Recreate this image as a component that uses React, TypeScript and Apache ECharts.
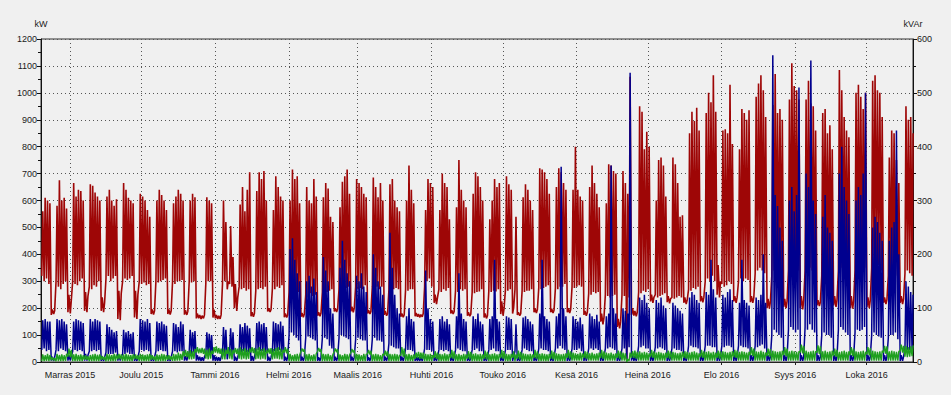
import React, { useEffect, useRef } from "react";
import * as echarts from "echarts";

// Daily readings, day 0 = Tue 20 Oct 2015; rows are weeks (Mon..Sun)
const redHigh: number[] = [
  560, 610, 600, 590, 195, 190,
  580, 675, 600, 610, 570, 250, 230,
  665, 615, 640, 635, 600, 260, 245,
  660, 655, 630, 615, 600, 240, 220,
  615, 640, 600, 580, 605, 265, 255,
  665, 640, 610, 600, 590, 265, 250,
  625, 615, 600, 565, 540, 195, 190,
  600, 640, 620, 600, 565, 195, 190,
  590, 615, 640, 625, 600, 192, 188,
  600, 625, 612, 180, 175, 172, 175,
  612, 600, 590, 195, 175, 172, 175,
  600, 520, 300, 505, 390, 290, 240,
  585, 650, 560, 640, 705, 185, 180,
  635, 705, 680, 710, 600, 200, 195,
  565, 690, 650, 615, 600, 180, 175,
  600, 715, 680, 690, 590, 182, 178,
  650, 600, 590, 680, 615, 185, 182,
  612, 665, 645, 540, 520, 200, 198,
  575, 670, 690, 715, 625, 205, 200,
  680, 665, 650, 625, 612, 192, 188,
  685, 650, 612, 665, 600, 190, 180,
  660, 680, 600, 575, 560, 180, 176,
  600, 730, 640, 590, 182, 178, 176,
  180, 565, 680, 665, 650, 250, 240,
  565, 700, 665, 650, 530, 192, 188,
  575, 750, 640, 600, 575, 185, 178,
  625, 705, 690, 650, 600, 180, 172,
  530, 600, 680, 650, 665, 225, 200,
  690, 660, 640, 200, 540, 185, 180,
  612, 660, 640, 600, 565, 200, 195,
  720, 715, 705, 680, 625, 198, 192,
  650, 720, 705, 665, 640, 200, 195,
  640, 800, 640, 615, 600, 190, 185,
  650, 730, 665, 625, 575, 180, 165,
  590, 735, 730, 710, 700, 160, 150,
  710, 665, 625, 1060, 200, 190, 185,
  950, 930, 790, 855, 800, 250, 240,
  600, 750, 760, 730, 615, 245, 235,
  760, 735, 665, 540, 545, 240, 230,
  850, 930, 895, 945, 860, 245, 240,
  925, 1000, 965, 1065, 930, 360, 300,
  860, 865, 850, 1030, 810, 245, 240,
  790, 940, 925, 900, 935, 245, 238,
  985, 1035, 1065, 1010, 910, 235, 225,
  955, 1070, 925, 940, 900, 235, 225,
  975, 1110, 1025, 1010, 975, 245, 230,
  975, 1045, 960, 950, 860, 230, 222,
  925, 940, 850, 880, 790, 245, 230,
  1085, 1010, 910, 860, 835, 245, 225,
  1000, 1030, 985, 940, 1000, 240, 230,
  1045, 1065, 1010, 1000, 910, 240, 232,
  760, 860, 850, 750, 665, 245, 235,
  950, 900, 910, 850,
];

const redLow: number[] = [
  320, 300, 310, 290, 175, 178,
  300, 280, 270, 290, 300, 185, 180,
  300, 290, 285, 300, 310, 190, 185,
  280, 270, 285, 280, 300, 190, 185,
  310, 320, 300, 310, 320, 160, 155,
  300, 310, 305, 310, 320, 165, 160,
  300, 290, 295, 285, 290, 178, 176,
  300, 295, 300, 305, 310, 178, 176,
  300, 290, 300, 300, 305, 176, 175,
  300, 295, 300, 162, 162, 160, 162,
  295, 300, 300, 165, 162, 160, 160,
  290, 300, 270, 290, 280, 200, 190,
  280, 270, 275, 265, 270, 170, 168,
  265, 270, 275, 270, 280, 188, 186,
  275, 270, 280, 275, 285, 166, 165,
  260, 250, 255, 250, 260, 168, 166,
  250, 240, 255, 245, 250, 172, 170,
  260, 255, 260, 265, 270, 188, 186,
  270, 270, 265, 275, 280, 188, 185,
  280, 270, 275, 270, 285, 180, 178,
  280, 275, 280, 270, 280, 175, 172,
  270, 265, 270, 275, 270, 168, 166,
  270, 265, 270, 270, 170, 168, 166,
  168, 280, 300, 310, 280, 220, 215,
  270, 260, 270, 265, 275, 180, 178,
  265, 260, 270, 265, 270, 172, 170,
  260, 255, 260, 262, 270, 165, 162,
  265, 260, 265, 262, 270, 178, 172,
  270, 265, 270, 180, 270, 175, 172,
  265, 260, 265, 265, 270, 185, 182,
  275, 270, 275, 280, 285, 185, 182,
  275, 270, 280, 280, 290, 185, 182,
  280, 275, 280, 285, 280, 175, 172,
  255, 250, 260, 255, 260, 150, 140,
  250, 245, 240, 245, 250, 130, 125,
  250, 245, 5, 240, 175, 172, 170,
  260, 255, 265, 260, 270, 225, 220,
  250, 240, 245, 250, 255, 222, 218,
  240, 235, 240, 245, 240, 220, 215,
  270, 265, 275, 270, 280, 225, 222,
  300, 310, 300, 320, 300, 250, 240,
  290, 280, 285, 300, 290, 225, 220,
  300, 310, 300, 310, 305, 222, 220,
  330, 340, 350, 340, 330, 200, 198,
  320, 340, 330, 340, 330, 205, 200,
  340, 350, 340, 350, 340, 200, 195,
  340, 330, 350, 340, 330, 210, 208,
  320, 330, 320, 330, 320, 210, 205,
  340, 350, 340, 330, 330, 200, 198,
  340, 350, 350, 340, 350, 205, 200,
  350, 340, 350, 360, 340, 220, 215,
  320, 330, 330, 320, 310, 220, 215,
  330, 340, 330, 320,
];

const blueHigh: number[] = [
  155, 160, 150, 150, 20, 18,
  160, 155, 160, 150, 140, 25, 20,
  150, 160, 155, 150, 145, 30, 25,
  160, 150, 160, 155, 150, 20, 18,
  140, 130, 120, 110, 115, 25, 20,
  120, 110, 115, 105, 110, 20, 18,
  160, 155, 150, 160, 145, 20, 18,
  150, 145, 150, 140, 135, 20, 18,
  145, 140, 130, 150, 140, 22, 20,
  120, 110, 115, 25, 20, 18, 20,
  110, 105, 100, 25, 20, 18, 18,
  130, 120, 40, 125, 110, 20, 18,
  140, 130, 145, 135, 125, 22, 20,
  145, 150, 140, 145, 130, 20, 18,
  150, 145, 140, 150, 135, 20, 20,
  420, 460, 380, 330, 300, 20, 18,
  300, 320, 280, 310, 260, 18, 18,
  390, 340, 300, 200, 180, 20, 18,
  350, 450, 380, 330, 300, 20, 18,
  320, 300, 330, 280, 260, 18, 18,
  400, 350, 300, 280, 250, 20, 18,
  480, 350, 250, 200, 180, 20, 18,
  170, 200, 160, 150, 20, 18, 18,
  20, 340, 200, 160, 150, 20, 18,
  160, 170, 150, 160, 140, 20, 18,
  170, 330, 180, 160, 150, 20, 18,
  170, 160, 180, 150, 140, 20, 18,
  160, 170, 380, 160, 150, 20, 18,
  170, 165, 160, 20, 140, 20, 18,
  165, 170, 160, 150, 140, 20, 18,
  180, 380, 170, 160, 150, 22, 20,
  170, 180, 725, 200, 170, 25, 20,
  170, 160, 150, 165, 140, 25, 20,
  180, 170, 160, 175, 150, 25, 20,
  170, 180, 730, 200, 180, 25, 20,
  200, 190, 180, 1075, 30, 22, 20,
  240, 230, 250, 220, 200, 25, 20,
  230, 220, 240, 210, 200, 25, 20,
  220, 210, 200, 190, 180, 22, 20,
  240, 260, 250, 230, 220, 25, 20,
  260, 250, 380, 270, 240, 30, 22,
  250, 240, 260, 270, 230, 25, 20,
  220, 380, 230, 220, 210, 25, 20,
  240, 230, 250, 400, 220, 25, 20,
  1140, 620, 580, 500, 450, 25, 20,
  600, 650, 560, 620, 1020, 25, 20,
  700, 650, 1120, 600, 550, 25, 20,
  540, 620, 500, 480, 450, 25, 20,
  700, 800, 650, 600, 550, 25, 20,
  600, 650, 620, 700, 1000, 25, 20,
  500, 540, 520, 480, 450, 25, 20,
  450, 500, 520, 860, 400, 25, 20,
  300, 280, 260, 250,
];

const blueLow: number[] = [
  45, 50, 40, 45, 5, 4,
  45, 40, 50, 45, 40, 5, 5,
  40, 45, 40, 45, 40, 5, 5,
  40, 40, 45, 40, 45, 4, 4,
  35, 30, 30, 30, 35, 5, 5,
  30, 30, 35, 30, 30, 4, 4,
  40, 45, 40, 45, 40, 4, 4,
  40, 40, 45, 40, 40, 4, 4,
  40, 40, 35, 40, 40, 5, 5,
  35, 30, 35, 5, 5, 4, 4,
  30, 30, 30, 5, 4, 4, 4,
  35, 30, 10, 35, 30, 4, 4,
  40, 35, 40, 35, 35, 4, 4,
  40, 45, 40, 40, 35, 4, 4,
  40, 40, 40, 45, 35, 4, 4,
  100, 110, 100, 90, 80, 4, 4,
  90, 95, 90, 85, 80, 4, 4,
  90, 90, 85, 60, 50, 4, 4,
  90, 100, 95, 90, 85, 4, 4,
  85, 90, 85, 80, 80, 4, 4,
  85, 90, 80, 80, 75, 4, 4,
  70, 60, 55, 50, 50, 4, 4,
  50, 45, 45, 40, 4, 4, 4,
  4, 50, 45, 45, 40, 4, 4,
  45, 45, 40, 45, 40, 4, 4,
  45, 50, 45, 40, 40, 4, 4,
  45, 45, 50, 40, 40, 4, 4,
  45, 45, 50, 40, 40, 4, 4,
  45, 45, 45, 4, 40, 4, 4,
  45, 50, 45, 40, 40, 4, 4,
  50, 50, 45, 45, 40, 4, 4,
  50, 50, 60, 50, 45, 4, 4,
  50, 45, 45, 50, 40, 4, 4,
  50, 50, 45, 50, 45, 4, 4,
  50, 50, 55, 50, 45, 4, 4,
  50, 50, 5, 55, 5, 4, 4,
  60, 55, 60, 50, 50, 4, 4,
  55, 50, 55, 50, 45, 4, 4,
  50, 50, 45, 45, 40, 4, 4,
  60, 60, 55, 55, 50, 4, 4,
  60, 60, 60, 55, 55, 4, 4,
  60, 55, 60, 60, 55, 4, 4,
  60, 60, 55, 55, 50, 4, 4,
  60, 55, 60, 65, 50, 4, 4,
  100, 120, 110, 100, 90, 4, 4,
  120, 130, 120, 110, 120, 4, 4,
  130, 120, 140, 120, 110, 4, 4,
  100, 110, 100, 100, 90, 4, 4,
  120, 130, 120, 110, 100, 4, 4,
  110, 120, 115, 120, 130, 4, 4,
  100, 110, 100, 95, 90, 4, 4,
  90, 100, 100, 110, 85, 4, 4,
  50, 45, 45, 40,
];

const greenHigh: number[] = [
  28, 25, 30, 26, 18, 15,
  30, 26, 28, 25, 30, 50, 45,
  28, 30, 26, 28, 25, 25, 22,
  26, 28, 30, 27, 28, 22, 20,
  30, 28, 26, 30, 28, 30, 28,
  28, 30, 27, 26, 28, 28, 25,
  30, 28, 26, 28, 30, 25, 22,
  28, 26, 30, 28, 26, 25, 22,
  30, 28, 35, 30, 40, 45, 40,
  45, 40, 48, 55, 50, 52, 50,
  45, 50, 42, 55, 58, 52, 50,
  50, 45, 55, 48, 45, 52, 50,
  55, 48, 52, 45, 50, 55, 52,
  50, 55, 48, 52, 45, 50, 52,
  48, 52, 55, 50, 45, 55, 50,
  30, 25, 28, 30, 25, 50, 48,
  28, 30, 25, 28, 30, 52, 48,
  30, 28, 30, 25, 28, 50, 48,
  28, 25, 30, 28, 26, 48, 45,
  30, 28, 25, 30, 28, 45, 42,
  28, 30, 28, 25, 30, 42, 40,
  30, 28, 30, 28, 25, 55, 50,
  28, 30, 26, 28, 35, 38, 35,
  35, 30, 28, 30, 26, 40, 35,
  30, 28, 32, 28, 30, 45, 40,
  28, 30, 26, 30, 28, 40, 38,
  30, 32, 28, 30, 28, 42, 38,
  28, 30, 32, 28, 30, 45, 40,
  30, 28, 30, 40, 28, 42, 38,
  32, 30, 28, 30, 28, 45, 40,
  30, 32, 30, 28, 30, 42, 38,
  32, 30, 28, 30, 32, 45, 40,
  35, 32, 30, 35, 32, 40, 38,
  32, 35, 30, 32, 35, 45, 40,
  35, 32, 35, 30, 32, 42, 40,
  35, 32, 10, 35, 40, 42, 38,
  40, 35, 38, 35, 32, 45, 40,
  35, 38, 35, 32, 35, 42, 40,
  38, 35, 32, 35, 38, 40, 38,
  35, 38, 40, 35, 32, 45, 40,
  38, 40, 35, 38, 35, 42, 40,
  40, 38, 35, 38, 40, 45, 42,
  38, 40, 38, 35, 38, 55, 50,
  40, 38, 42, 38, 35, 50, 48,
  42, 40, 38, 40, 42, 55, 50,
  40, 42, 40, 38, 40, 65, 60,
  42, 38, 40, 42, 40, 62, 58,
  40, 42, 38, 40, 42, 50, 45,
  38, 40, 42, 38, 40, 55, 50,
  40, 38, 40, 42, 38, 55, 52,
  42, 40, 38, 40, 42, 60, 58,
  40, 42, 40, 38, 40, 65, 60,
  60, 55, 58, 62,
];

const greenLow: number[] = [
  3, 3, 4, 3, 6, 6,
  3, 3, 3, 3, 4, 20, 18,
  3, 3, 3, 3, 3, 8, 8,
  3, 3, 3, 3, 3, 8, 8,
  3, 3, 3, 3, 3, 10, 10,
  3, 3, 3, 3, 3, 10, 10,
  3, 3, 3, 3, 3, 8, 8,
  3, 3, 3, 3, 3, 8, 8,
  4, 4, 5, 5, 8, 20, 18,
  10, 10, 12, 35, 32, 33, 30,
  12, 10, 12, 30, 35, 32, 30,
  10, 10, 30, 12, 10, 32, 30,
  12, 10, 12, 10, 12, 35, 33,
  10, 12, 10, 12, 10, 32, 30,
  10, 12, 12, 10, 10, 35, 32,
  3, 3, 3, 3, 3, 40, 38,
  3, 3, 3, 3, 3, 40, 38,
  3, 3, 3, 3, 3, 38, 36,
  3, 3, 3, 3, 3, 36, 35,
  3, 3, 3, 3, 3, 30, 28,
  3, 3, 3, 3, 3, 25, 22,
  3, 3, 3, 3, 3, 25, 20,
  3, 3, 3, 3, 12, 15, 12,
  12, 3, 3, 3, 3, 15, 12,
  3, 3, 3, 3, 3, 15, 12,
  3, 3, 3, 3, 3, 12, 10,
  3, 3, 3, 3, 3, 12, 10,
  3, 3, 3, 3, 3, 15, 12,
  3, 3, 3, 15, 3, 12, 10,
  3, 3, 3, 3, 3, 15, 12,
  3, 3, 3, 3, 3, 12, 10,
  3, 3, 3, 3, 3, 15, 12,
  5, 5, 5, 5, 5, 15, 12,
  5, 5, 5, 5, 5, 15, 12,
  5, 5, 5, 5, 5, 15, 12,
  5, 5, 0, 5, 15, 15, 12,
  5, 5, 5, 5, 5, 18, 15,
  5, 5, 5, 5, 5, 15, 12,
  5, 5, 5, 5, 5, 15, 12,
  5, 5, 5, 5, 5, 18, 15,
  5, 5, 5, 5, 5, 15, 12,
  5, 5, 5, 5, 5, 18, 15,
  5, 5, 5, 5, 5, 25, 22,
  5, 5, 5, 5, 5, 22, 20,
  5, 5, 5, 5, 5, 25, 22,
  5, 5, 5, 5, 5, 35, 32,
  5, 5, 5, 5, 5, 35, 30,
  5, 5, 5, 5, 5, 22, 20,
  5, 5, 5, 5, 5, 25, 22,
  5, 5, 5, 5, 5, 28, 25,
  5, 5, 5, 5, 5, 35, 30,
  5, 5, 5, 5, 5, 40, 35,
  20, 18, 20, 22,
];

const monthNames: string[] = [
  "Tammi", "Helmi", "Maalis", "Huhti", "Touko", "Kesä",
  "Heinä", "Elo", "Syys", "Loka", "Marras", "Joulu",
];

const leftTicks = { min: 0, max: 1200, step: 100 };
const rightTicks = { min: 0, max: 600, step: 100 };

const DAY = 86400000;
const X_MIN = new Date(2015, 9, 19, 19, 12).getTime();
const X_MAX = new Date(2016, 9, 20, 12).getTime();

function dayTime(d: number, h: number): number {
  return new Date(2015, 9, 20 + d, h).getTime();
}

function build(high: number[], low: number[]): [number, number][] {
  const out: [number, number][] = [];
  const n = Math.min(high.length, low.length);
  for (let d = 0; d < n; d++) {
    out.push([dayTime(d, 3), low[d]]);
    out.push([dayTime(d, 13), high[d]]);
  }
  return out;
}

const FONT = "'Liberation Sans', Arial, sans-serif";
const TXT = "#1a1a1a";
const GRIDLINE = { color: "#555", type: [1, 3] as number[], width: 1 };

export default function App() {
  const ref = useRef<HTMLDivElement>(null);

  useEffect(() => {
    if (!ref.current) return;
    const chart = echarts.init(ref.current, undefined, { renderer: "svg" });
    const option: any = {
      animation: false,
      backgroundColor: "#f0f0f0",
      textStyle: { fontFamily: FONT },
      grid: {
        left: 41, right: 38, top: 39, bottom: 33,
        show: true, borderColor: "#333", borderWidth: 1, backgroundColor: "transparent",
      },
      xAxis: {
        type: "time",
        min: X_MIN,
        max: X_MAX,
        splitNumber: 12,
        minInterval: 28 * DAY,
        maxInterval: 31 * DAY,
        axisLine: { show: true, lineStyle: { color: "#222" } },
        axisTick: { show: true, length: 3, lineStyle: { color: "#222" } },
        axisLabel: {
          fontSize: 9,
          color: TXT,
          fontFamily: FONT,
          margin: 8,
          showMinLabel: false,
          showMaxLabel: false,
          hideOverlap: false,
          formatter: (value: number) => {
            const d = new Date(value);
            if (d.getDate() !== 1 || d.getHours() !== 0) return "";
            return monthNames[d.getMonth()] + " " + d.getFullYear();
          },
        },
        splitLine: { show: true, lineStyle: GRIDLINE },
      },
      yAxis: [
        {
          type: "value",
          min: leftTicks.min,
          max: leftTicks.max,
          interval: leftTicks.step,
          name: "kW",
          nameLocation: "end",
          nameGap: 11,
          nameTextStyle: { fontSize: 9, color: TXT, fontFamily: FONT, align: "center" },
          axisLine: { show: true, lineStyle: { color: "#111" } },
          axisTick: { show: true, length: 4, lineStyle: { color: "#111" } },
          minorTick: { show: true, splitNumber: 2, length: 3, lineStyle: { color: "#111" } },
          axisLabel: {
            fontSize: 9, color: TXT, fontFamily: FONT, margin: 4,
            formatter: (v: number) => String(v),
          },
          splitLine: { show: true, lineStyle: GRIDLINE },
        },
        {
          type: "value",
          position: "right",
          min: rightTicks.min,
          max: rightTicks.max,
          interval: rightTicks.step,
          name: "kVAr",
          nameLocation: "end",
          nameGap: 11,
          nameTextStyle: { fontSize: 9, color: TXT, fontFamily: FONT, align: "center" },
          axisLine: { show: true, lineStyle: { color: "#111" } },
          axisTick: { show: true, length: 4, lineStyle: { color: "#111" } },
          minorTick: { show: true, splitNumber: 2, length: 3, lineStyle: { color: "#111" } },
          axisLabel: {
            fontSize: 9, color: TXT, fontFamily: FONT, margin: 4,
            formatter: (v: number) => String(v),
          },
          splitLine: { show: false },
        },
      ],
      series: [
        {
          name: "kW",
          type: "line",
          yAxisIndex: 0,
          showSymbol: false,
          symbol: "none",
          data: build(redHigh, redLow),
          lineStyle: { color: "#9e0606", width: 1.6 },
          itemStyle: { color: "#9e0606" },
          z: 2,
        },
        {
          name: "Blue",
          type: "line",
          yAxisIndex: 0,
          showSymbol: false,
          symbol: "none",
          data: build(blueHigh, blueLow),
          lineStyle: { color: "#00008f", width: 1.5 },
          itemStyle: { color: "#00008f" },
          z: 3,
        },
        {
          name: "Green",
          type: "line",
          yAxisIndex: 0,
          showSymbol: false,
          symbol: "none",
          data: build(greenHigh, greenLow),
          lineStyle: { color: "#1f9f1f", width: 1.4 },
          itemStyle: { color: "#1f9f1f" },
          z: 4,
        },
      ],
    };
    chart.setOption(option);
    return () => chart.dispose();
  }, []);

  return (
    <div
      ref={ref}
      style={{ position: "absolute", left: 0, top: 0, width: 951, height: 395 }}
    />
  );
}
